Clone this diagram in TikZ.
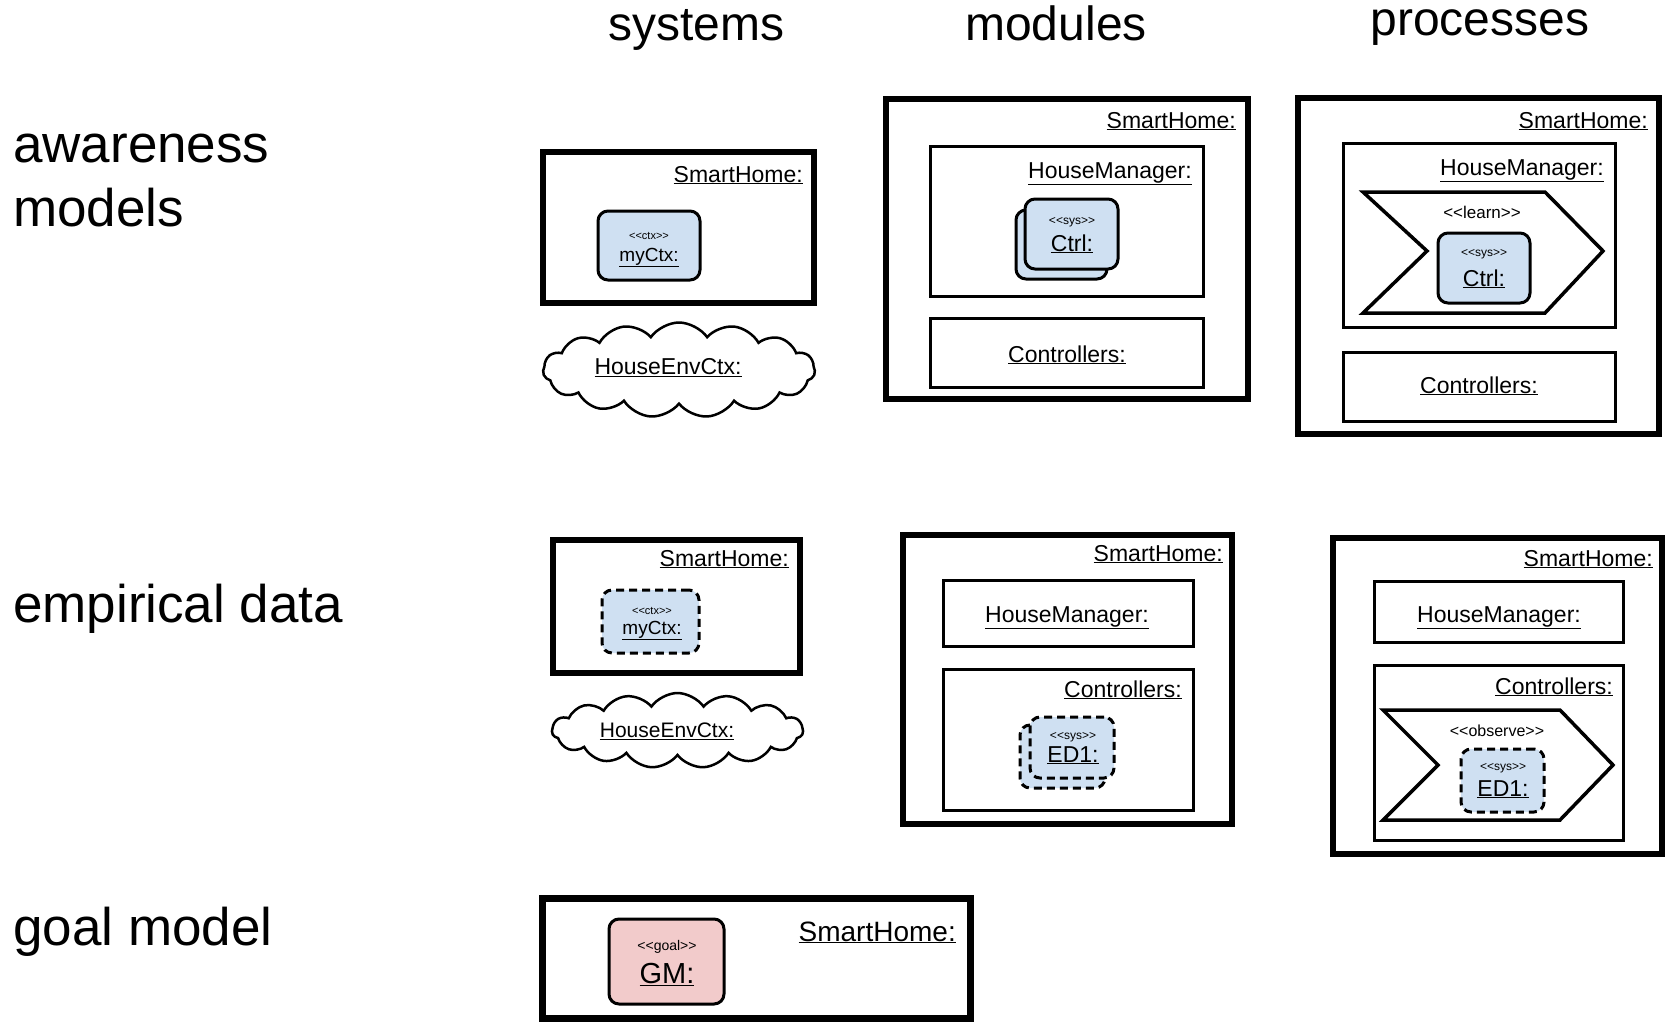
\documentclass[tikz,border=0pt]{standalone}
\usepackage{fontspec}
\setmainfont{Liberation Sans}
\usetikzlibrary{shapes.symbols}
\definecolor{objblue}{RGB}{207,224,242}
\definecolor{objpink}{RGB}{242,203,203}
\newcommand{\fsz}[1]{\fontsize{#1}{#1}\selectfont}
\newcommand{\stereo}[1]{<{}<#1>{}>}
\begin{document}
\begin{tikzpicture}[x=1pt,y=-1pt,
  bigbox/.style 2 args={draw, line width=6pt, minimum width=#1, minimum height=#2, inner sep=0pt, outer sep=0pt},
  midbox/.style 2 args={draw, line width=3pt, minimum width=#1, minimum height=#2, inner sep=0pt, outer sep=0pt},
  objbox/.style 2 args={draw, line width=3pt, rounded corners=10pt, fill=objblue, minimum width=#1, minimum height=#2, inner sep=0pt},
  dashobj/.style={dash pattern=on 8pt off 5pt},
  chev/.style={draw, line width=3.5pt, line join=miter},
  cloudbox/.style 2 args={cloud, draw, line width=2.5pt, cloud puffs=15, cloud puff arc=110, aspect=2.8, minimum width=#1, minimum height=#2, inner sep=0pt},
  lbl/.style={inner sep=0pt, font=\fsz{23}},
  ster/.style={inner sep=0pt, font=\fsz{12}},
  head/.style={inner sep=0pt, font=\fsz{48}, anchor=base},
  rowl/.style={inner sep=0pt, font=\fsz{53}, anchor=base west, align=left}]
\useasboundingbox (0,0) rectangle (1667,1021);

% headers
\node[head] (hsys) at (696,40) {systems};
\node[head] (hmod) at (1056,40) {modules};
\node[head] (hproc) at (1480,35) {processes};
% row labels
\node[rowl] (r1) at (13,162) {awareness};
\node[rowl] (r1b) at (13,226) {models};
\node[rowl] (r2) at (13,622) {empirical data};
\node[rowl] (r3) at (13,945) {goal model};

% ===== awareness / systems
\node[bigbox={271}{151}] (a1) at (678.5,227.5) {};
\node[lbl, anchor=base east] (a1t) at (803,182) {\underline{SmartHome:}};
\node[objbox={102}{69}] (a1c) at (649,245.5) {};
\node[ster, font=\fsz{11}] (a1cs) at (649,236) {\stereo{ctx}};
\node[lbl, font=\fsz{19}, anchor=base] (a1cn) at (649,261) {\underline{myCtx:}};
\node[cloudbox={272}{95}] (a1e) at (679,370) {};
\node[lbl, font=\fsz{23}] (a1et) at (668,368) {\underline{HouseEnvCtx:}};

% ===== awareness / modules
\node[bigbox={362}{300}] (a2) at (1067,249) {};
\node[lbl, anchor=base east] (a2t) at (1236,128) {\underline{SmartHome:}};
\node[midbox={273}{150}] (a2h) at (1066.5,221) {};
\node[lbl, anchor=base east] (a2ht) at (1192,178) {\underline{HouseManager:}};
\node[objbox={91}{69}] (a2b) at (1061.5,244.5) {};
\node[objbox={93}{70}] (a2f) at (1071.5,234) {};
\node[ster] (a2fs) at (1072,222) {\stereo{sys}};
\node[lbl, anchor=base] (a2fn) at (1072,251) {\underline{Ctrl:}};
\node[midbox={273}{69}] (a2c) at (1066.5,352.5) {};
\node[lbl, anchor=base] (a2ct) at (1067,362) {\underline{Controllers:}};

% ===== awareness / processes
\node[bigbox={361}{336}] (a3) at (1478.5,266) {};
\node[lbl, anchor=base east] (a3t) at (1648,128) {\underline{SmartHome:}};
\node[midbox={272}{184}] (a3h) at (1479,235) {};
\node[lbl, anchor=base east] (a3ht) at (1604,175) {\underline{HouseManager:}};
\draw[chev] (1363,192) -- (1545,192) -- (1603,251) -- (1545,313) -- (1363,313) -- (1427,251) -- cycle;
\node[ster, font=\fsz{17}] (a3l) at (1482,212) {\stereo{learn}};
\node[objbox={92}{70}] (a3o) at (1484,268) {};
\node[ster] (a3os) at (1484,254) {\stereo{sys}};
\node[lbl, anchor=base] (a3on) at (1484,286) {\underline{Ctrl:}};
\node[midbox={272}{69}] (a3c) at (1479,386.5) {};
\node[lbl, anchor=base] (a3ct) at (1479,393) {\underline{Controllers:}};

% ===== empirical / systems
\node[bigbox={247}{133}] (b1) at (676.5,606.5) {};
\node[lbl, anchor=base east] (b1t) at (789,566) {\underline{SmartHome:}};
\node[objbox={97}{63}, dashobj] (b1c) at (650.5,621.5) {};
\node[ster, font=\fsz{11}] (b1cs) at (652,611) {\stereo{ctx}};
\node[lbl, font=\fsz{19}, anchor=base] (b1cn) at (652,634) {\underline{myCtx:}};
\node[cloudbox={251}{75}] (b1e) at (677.5,730.5) {};
\node[lbl, font=\fsz{21}] (b1et) at (667,731) {\underline{HouseEnvCtx:}};

% ===== empirical / modules
\node[bigbox={329}{289}] (b2) at (1067.5,679.5) {};
\node[lbl, anchor=base east] (b2t) at (1223,561) {\underline{SmartHome:}};
\node[midbox={250}{66}] (b2h) at (1068,613) {};
\node[lbl, anchor=base] (b2ht) at (1067,622) {\underline{HouseManager:}};
\node[midbox={250}{141}] (b2c) at (1068,739.5) {};
\node[lbl, anchor=base east] (b2ct) at (1182,697) {\underline{Controllers:}};
\node[objbox={85}{63}, dashobj] (b2b) at (1062.5,756.5) {};
\node[objbox={84}{61}, dashobj] (b2f) at (1072,747.5) {};
\node[ster] (b2fs) at (1073,737) {\stereo{sys}};
\node[lbl, anchor=base] (b2fn) at (1073,762) {\underline{ED1:}};

% ===== empirical / processes
\node[bigbox={329}{316}] (b3) at (1497.5,696) {};
\node[lbl, anchor=base east] (b3t) at (1653,566) {\underline{SmartHome:}};
\node[midbox={249}{61}] (b3h) at (1498.5,611.5) {};
\node[lbl, anchor=base] (b3ht) at (1499,622) {\underline{HouseManager:}};
\node[midbox={249}{175}] (b3c) at (1498.5,752.5) {};
\node[lbl, anchor=base east] (b3ct) at (1613,694) {\underline{Controllers:}};
\draw[chev] (1383,710) -- (1560,710) -- (1613,765) -- (1560,820) -- (1383,820) -- (1438,765) -- cycle;
\node[ster, font=\fsz{16}] (b3l) at (1497,731) {\stereo{observe}};
\node[objbox={83}{63}, dashobj] (b3o) at (1502.5,780.5) {};
\node[ster] (b3os) at (1503,768) {\stereo{sys}};
\node[lbl, anchor=base] (b3on) at (1503,796) {\underline{ED1:}};

% ===== goal model
\node[bigbox={428}{120}, line width=7pt] (c1) at (756,958) {};
\node[lbl, font=\fsz{28}, anchor=base east] (c1t) at (956,941) {\underline{SmartHome:}};
\node[objbox={115}{85}, fill=objpink] (c1g) at (666.5,961.5) {};
\node[ster, font=\fsz{14}] (c1gs) at (667,947) {\stereo{goal}};
\node[lbl, font=\fsz{29}, anchor=base] (c1gn) at (667,983) {\underline{GM:}};
\end{tikzpicture}
\end{document}
